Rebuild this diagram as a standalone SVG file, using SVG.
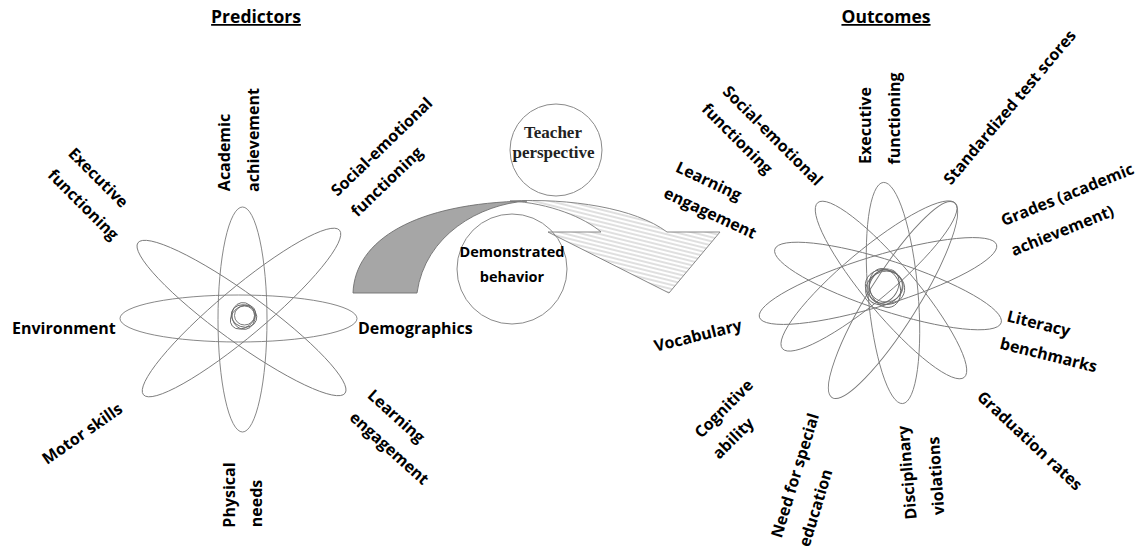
<svg xmlns="http://www.w3.org/2000/svg" width="1147" height="550" viewBox="0 0 1147 550">
  <style>
    .lbl { font-family: "Open Sans", "Liberation Sans", sans-serif; font-weight: bold; font-size: 16px; fill: #000; text-anchor: middle; }
    .ttl { font-family: "Open Sans", "Liberation Sans", sans-serif; font-weight: bold; font-size: 17.5px; fill: #000; text-anchor: middle; text-decoration: underline; }
    .petal { fill: none; stroke: #7a7a7a; stroke-width: 0.9; }
    .ring { fill: none; stroke: #6a6a6a; stroke-width: 0.9; }
    .circ { fill: none; stroke: #8a8a8a; stroke-width: 1; }
    .serif { font-family: "Liberation Serif", "Times New Roman", serif; font-weight: bold; font-size: 17px; fill: #222; text-anchor: middle; }
    .dem { font-family: "Open Sans", "Liberation Sans", sans-serif; font-weight: bold; font-size: 14.5px; fill: #000; text-anchor: middle; }
  </style>
  <defs>
    <pattern id="hatch" width="8" height="4" patternUnits="userSpaceOnUse" patternTransform="rotate(14)">
      <line x1="0" y1="2" x2="8" y2="2" stroke="#b0b0b0" stroke-width="0.8"/>
    </pattern>
  </defs>
  <rect width="1147" height="550" fill="#fff"/>

  <text class="ttl" x="256" y="23">Predictors</text>
  <text class="ttl" x="886" y="23">Outcomes</text>

  <g id="predictors-flower">
    <ellipse class="petal" cx="238.5" cy="318.5" rx="118.5" ry="23.5"/>
    <ellipse class="petal" cx="242.5" cy="319.5" rx="24.5" ry="112.5"/>
    <ellipse class="petal" cx="241.5" cy="318" rx="128" ry="24" transform="rotate(36 241.5 318)"/>
    <ellipse class="petal" cx="241.5" cy="312.5" rx="128" ry="24" transform="rotate(-40 241.5 312.5)"/>
    <ellipse class="ring" cx="244" cy="316" rx="13" ry="11" transform="rotate(20 244 316)"/>
    <ellipse class="ring" cx="243" cy="317" rx="14" ry="10.5" transform="rotate(-40 243 317)"/>
    <ellipse class="ring" cx="244.5" cy="315.5" rx="10" ry="9.5"/>
    <ellipse class="ring" cx="243.5" cy="316" rx="13.5" ry="11.5" transform="rotate(80 243.5 316)"/>
  </g>

  <g id="predictor-labels">
    <text class="lbl" transform="translate(98,178) rotate(45)" dy="0.32em">Executive</text>
    <text class="lbl" transform="translate(83,205) rotate(45)" dy="0.32em">functioning</text>
    <text class="lbl" transform="translate(225,152.5) rotate(-90)" dy="0.32em">Academic</text>
    <text class="lbl" transform="translate(253.5,140) rotate(-90)" dy="0.32em">achievement</text>
    <text class="lbl" transform="translate(382,147) rotate(-44)" dy="0.32em">Social-emotional</text>
    <text class="lbl" transform="translate(387,182) rotate(-44)" dy="0.32em">functioning</text>
    <text class="lbl" x="12" y="334" style="text-anchor:start">Environment</text>
    <text class="lbl" x="358" y="334" style="text-anchor:start">Demographics</text>
    <text class="lbl" transform="translate(82.5,434) rotate(-35)" dy="0.32em">Motor skills</text>
    <text class="lbl" transform="translate(230,495) rotate(-90)" dy="0.32em">Physical</text>
    <text class="lbl" transform="translate(257,503.5) rotate(-90)" dy="0.32em">needs</text>
    <text class="lbl" transform="translate(396,416.5) rotate(42)" dy="0.32em">Learning</text>
    <text class="lbl" transform="translate(389,448.5) rotate(42)" dy="0.32em">engagement</text>
  </g>

  <g id="connectors">
    <path d="M353,293 C355,240 415,203 527,201 C480,204 425,235 417,293 Z" fill="#a6a6a6" stroke="#6f6f6f" stroke-width="0.9"/>
    <path d="M510,201 C570,198 635,208 667,232 L720,232 L669,293 L548,232 L601,232 C585,218 550,203 510,201 Z" fill="url(#hatch)" stroke="#7a7a7a" stroke-width="0.9"/>
  </g>

  <g id="teacher-perspective">
    <circle class="circ" cx="556" cy="150" r="46"/>
    <text class="serif" x="553" y="138">Teacher</text>
    <text class="serif" x="553.5" y="158">perspective</text>
  </g>

  <g id="demonstrated-behavior">
    <circle class="circ" cx="512" cy="269" r="55"/>
    <text class="dem" x="512" y="257">Demonstrated</text>
    <text class="dem" x="512" y="282">behavior</text>
  </g>

  <g id="outcomes-flower">
    <ellipse class="petal" cx="893" cy="293" rx="111" ry="25" transform="rotate(85 893 293)"/>
    <ellipse class="petal" cx="891" cy="290" rx="114" ry="25" transform="rotate(50 891 290)"/>
    <ellipse class="petal" cx="893" cy="300" rx="115" ry="25" transform="rotate(122 893 300)"/>
    <ellipse class="petal" cx="888" cy="286" rx="119" ry="25" transform="rotate(18 888 286)"/>
    <ellipse class="petal" cx="878" cy="281" rx="124" ry="25" transform="rotate(163 878 281)"/>
    <ellipse class="petal" cx="869" cy="276" rx="113" ry="25" transform="rotate(140 869 276)"/>
    <ellipse class="ring" cx="885" cy="287" rx="20" ry="17" transform="rotate(20 885 287)"/>
    <ellipse class="ring" cx="884" cy="288" rx="19" ry="16" transform="rotate(-30 884 288)"/>
    <ellipse class="ring" cx="886" cy="286" rx="17" ry="16"/>
    <ellipse class="ring" cx="885" cy="288" rx="20" ry="15" transform="rotate(70 885 288)"/>
    <ellipse class="ring" cx="884" cy="286" rx="18" ry="14" transform="rotate(120 884 286)"/>
  </g>

  <g id="outcome-labels">
    <text class="lbl" transform="translate(772.5,136) rotate(45)" dy="0.32em">Social-emotional</text>
    <text class="lbl" transform="translate(737,139) rotate(45)" dy="0.32em">functioning</text>
    <text class="lbl" transform="translate(708.5,181.5) rotate(25)" dy="0.32em">Learning</text>
    <text class="lbl" transform="translate(710,213.5) rotate(25)" dy="0.32em">engagement</text>
    <text class="lbl" transform="translate(865.5,125.5) rotate(-90)" dy="0.32em">Executive</text>
    <text class="lbl" transform="translate(895,118.5) rotate(-90)" dy="0.32em">functioning</text>
    <text class="lbl" transform="translate(1010,107.5) rotate(-50)" dy="0.32em">Standardized test scores</text>
    <text class="lbl" transform="translate(1067.5,195) rotate(-22)" dy="0.32em">Grades (academic</text>
    <text class="lbl" transform="translate(1062.5,231) rotate(-22)" dy="0.32em">achievement)</text>
    <text class="lbl" transform="translate(1038.5,324) rotate(14)" dy="0.32em">Literacy</text>
    <text class="lbl" transform="translate(1048.5,355.5) rotate(14)" dy="0.32em">benchmarks</text>
    <text class="lbl" transform="translate(698,336) rotate(-14)" dy="0.32em">Vocabulary</text>
    <text class="lbl" transform="translate(724,409) rotate(-45)" dy="0.32em">Cognitive</text>
    <text class="lbl" transform="translate(733.5,438.5) rotate(-45)" dy="0.32em">ability</text>
    <text class="lbl" transform="translate(795.5,475.5) rotate(-73)" dy="0.32em">Need for special</text>
    <text class="lbl" transform="translate(816,508) rotate(-73)" dy="0.32em">education</text>
    <text class="lbl" transform="translate(907.5,472.5) rotate(-95)" dy="0.32em">Disciplinary</text>
    <text class="lbl" transform="translate(936.5,476) rotate(-94)" dy="0.32em">violations</text>
    <text class="lbl" transform="translate(1029.5,441) rotate(43)" dy="0.32em">Graduation rates</text>
  </g>
</svg>
